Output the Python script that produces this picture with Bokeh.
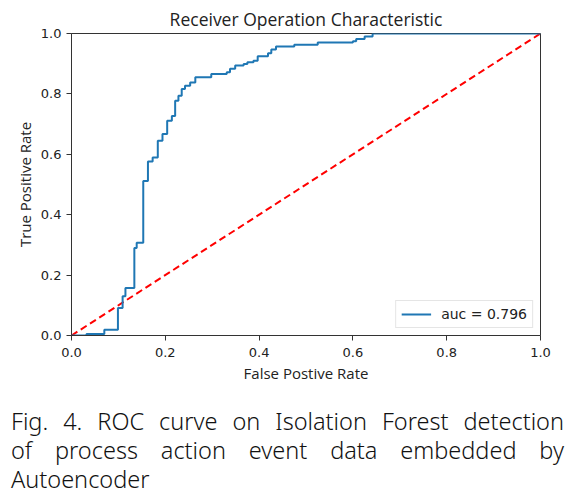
from bokeh.plotting import figure
from bokeh.models import Range1d, FixedTicker, NumeralTickFormatter, Div
from bokeh.layouts import column
from bokeh.embed import file_html
from bokeh.resources import INLINE

# ROC curve corner points (step "after")
fpr = [0.0, 0.032, 0.070, 0.099, 0.109, 0.115, 0.134, 0.139, 0.153, 0.163, 0.173,
       0.184, 0.194, 0.204, 0.214, 0.221, 0.228, 0.235, 0.242, 0.253, 0.264, 0.298,
       0.331, 0.338, 0.349, 0.367, 0.375, 0.388, 0.397, 0.419, 0.426, 0.436, 0.475,
       0.525, 0.600, 0.607, 0.625, 0.642, 1.0]
tpr = [0.0, 0.005, 0.019, 0.091, 0.130, 0.157, 0.290, 0.307, 0.512, 0.576, 0.589,
       0.645, 0.667, 0.711, 0.727, 0.777, 0.794, 0.816, 0.827, 0.838, 0.855, 0.866,
       0.872, 0.883, 0.894, 0.899, 0.905, 0.910, 0.925, 0.935, 0.947, 0.957, 0.963,
       0.970, 0.974, 0.982, 0.990, 1.0, 1.0]
diag_x = [0.0, 1.0]
diag_y = [0.0, 1.0]
ticks = [0.0, 0.2, 0.4, 0.6, 0.8, 1.0]
legend_text = "auc = 0.796"
title_text = "Receiver Operation Characteristic"
x_label = "False Postive Rate"
y_label = "True Positive Rate"
caption_lines = ["Fig. 4. ROC curve on Isolation Forest  detection",
                 "of process action event data embedded by",
                 "Autoencoder"]

p = figure(frame_width=469, frame_height=302, output_backend="svg", toolbar_location=None,
           x_range=Range1d(0, 1), y_range=Range1d(0, 1), title=title_text,
           min_border_left=71, min_border_right=30, min_border_top=33, min_border_bottom=56,
           background_fill_color="white", border_fill_color="white")
p.title.align = "center"
p.title.text_font = "Open Sans"
p.title.text_font_size = "17.5px"
p.title.text_font_style = "normal"
p.title.text_color = "#222222"
p.title.standoff = 5
p.xgrid.visible = False
p.ygrid.visible = False
p.outline_line_color = "#333333"
p.outline_line_width = 1
p.outline_line_alpha = 1

for ax, lab in ((p.xaxis[0], x_label), (p.yaxis[0], y_label)):
    ax.ticker = FixedTicker(ticks=ticks)
    ax.formatter = NumeralTickFormatter(format="0.0")
    ax.major_tick_out = 5
    ax.major_tick_in = 0
    ax.minor_tick_line_color = None
    ax.axis_line_color = "#333333"
    ax.major_tick_line_color = "#333333"
    ax.major_label_text_font = "DejaVu Sans"
    ax.major_label_text_font_size = "13px"
    ax.major_label_text_color = "#222222"
    ax.axis_label = lab
    ax.axis_label_text_font = "Open Sans"
    ax.axis_label_text_font_size = "15px"
    ax.axis_label_text_font_style = "normal"
    ax.axis_label_text_color = "#222222"
    ax.axis_label_standoff = 3
p.xaxis[0].major_label_standoff = 7
p.yaxis[0].major_label_standoff = 5

p.line(diag_x, diag_y, line_color="red", line_width=2, line_dash="7 4")
p.step(fpr, tpr, mode="after", line_color="#1f77b4", line_width=2, legend_label=legend_text)

p.legend.location = "bottom_right"
p.legend.margin = 7
p.legend.padding = 5
p.legend.border_line_color = "#cccccc"
p.legend.border_line_width = 1
p.legend.label_text_font = "DejaVu Sans"
p.legend.label_text_font_size = "14px"
p.legend.label_text_color = "#222222"
p.legend.glyph_width = 30
p.legend.glyph_height = 14
p.legend.label_standoff = 10
p.legend.background_fill_alpha = 1

html = ('<div style="font-family:\'Noto Sans\';font-weight:300;font-size:23.5px;line-height:29px;'
        'color:#111;width:553px">')
for i, ln in enumerate(caption_lines):
    if i < len(caption_lines) - 1:
        html += '<div style="text-align:justify;text-align-last:justify">%s</div>' % ln
    else:
        html += '<div>%s</div>' % ln
html += '</div>'
cap = Div(text=html, width=560, margin=(16, 0, 0, 11))

layout = column(p, cap, spacing=0)
open("out.html", "w").write(file_html(layout, INLINE))
